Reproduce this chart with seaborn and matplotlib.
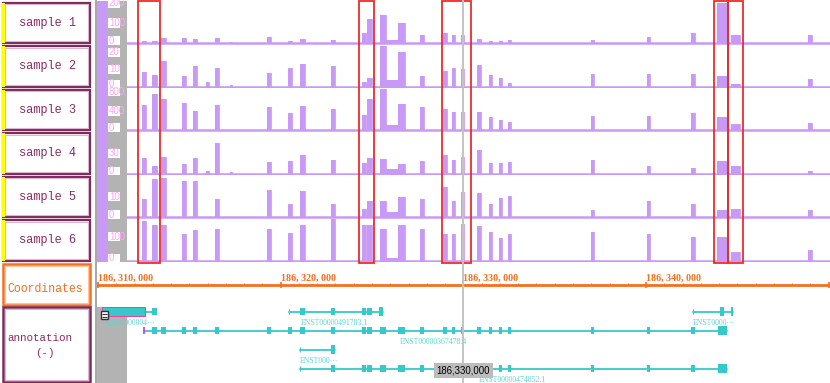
import matplotlib
matplotlib.use("Agg")
import matplotlib.pyplot as plt
from matplotlib.patches import Rectangle
from matplotlib.transforms import blended_transform_factory as blend
import pandas as pd
import seaborn as sns

# ---------------- data ----------------
region_start = 186310000            # bp at x = 0, positions below are kb offsets
view_kb = (-0.055, 40.07)
samples = ["sample 1", "sample 2", "sample 3", "sample 4", "sample 5", "sample 6"]

exon_start = [2.41, 2.96, 3.45, 4.60, 5.20, 5.91, 6.40, 7.22, 9.25,
              10.40, 11.06, 12.75, 14.45, 14.72, 15.44, 15.76, 16.42,
              17.62, 18.88, 19.38, 19.87, 20.74, 21.40, 21.95, 22.44,
              26.98, 30.05, 32.46, 33.88, 34.65, 38.86]
exon_end = [2.63, 3.23, 3.72, 4.82, 5.42, 6.08, 6.62, 7.33, 9.47,
            10.62, 11.33, 12.97, 14.67, 15.00, 15.76, 16.42, 16.80,
            17.84, 19.10, 19.54, 20.03, 20.96, 21.57, 22.11, 22.61,
            27.15, 30.21, 32.68, 34.43, 35.14, 39.08]

# relative depth (fraction of each track's scale)
depth_s1 = [0.05, 0.05, 0.12, 0.12, 0.10, 0.00, 0.12, 0.02, 0.15, 0.05, 0.10, 0.08,
            0.25, 0.57, 0.66, 0.07, 0.47, 0.18, 0.24, 0.19, 0.18, 0.10, 0.06, 0.06,
            0.08, 0.08, 0.15, 0.25, 0.95, 0.20, 0.20]
depth_s2 = [0.34, 0.27, 0.60, 0.24, 0.50, 0.10, 0.45, 0.04, 0.32, 0.45, 0.53, 0.50,
            0.10, 0.20, 0.97, 0.15, 0.83, 0.25, 0.37, 0.43, 0.42, 0.52, 0.28, 0.20,
            0.09, 0.30, 0.30, 0.30, 0.26, 0.05, 0.19]
depth_s3 = [0.60, 0.86, 0.75, 0.65, 0.45, 0.00, 0.60, 0.00, 0.55, 0.40, 0.58, 0.50,
            0.35, 0.75, 0.97, 0.12, 0.62, 0.55, 0.50, 0.42, 0.42, 0.42, 0.30, 0.25,
            0.19, 0.34, 0.34, 0.40, 0.32, 0.15, 0.17]
depth_s4 = [0.38, 0.19, 0.40, 0.22, 0.37, 0.05, 0.73, 0.03, 0.28, 0.30, 0.45, 0.32,
            0.25, 0.36, 0.34, 0.10, 0.22, 0.30, 0.43, 0.32, 0.40, 0.55, 0.26, 0.25,
            0.28, 0.33, 0.18, 0.13, 0.30, 0.18, 0.07]
depth_s5 = [0.43, 0.90, 0.93, 0.85, 0.85, 0.00, 0.43, 0.00, 0.65, 0.32, 0.63, 0.32,
            0.20, 0.37, 0.37, 0.12, 0.47, 0.42, 0.72, 0.37, 0.60, 0.57, 0.32, 0.45,
            0.50, 0.17, 0.37, 0.32, 0.17, 0.20, 0.17]
depth_s6 = [0.93, 0.84, 0.85, 0.64, 0.72, 0.00, 0.76, 0.00, 0.74, 0.66, 0.85, 0.99,
            0.84, 0.84, 0.74, 0.06, 0.84, 0.76, 0.62, 0.64, 0.87, 0.82, 0.68, 0.54,
            0.62, 0.67, 0.62, 0.55, 0.57, 0.20, 0.26]
depths = [depth_s1, depth_s2, depth_s3, depth_s4, depth_s5, depth_s6]

track_max = [210, 24.5, 880, 62, 20.7, 176]
track_ticks = [[0, 100, 200], [0, 10, 20], [0, 400, 800], [0, 30], [0, 10], [0, 100]]

highlight_start = [2.19, 14.29, 18.83, 33.72, 34.48]
highlight_end = [3.39, 15.11, 20.42, 34.48, 35.30]
cursor_kb = 20.0

# transcripts (minus strand)
tx_names = ["ENST000004\u00b7\u00b7\u00b7", "ENST00000491783.1", "ENST0000\u00b7\u00b7\u00b7",
            "ENST00000367478.4", "ENST000\u00b7\u00b7\u00b7", "ENST00000474852.1"]
tx_row = [0, 0, 0, 1, 2, 3]
tx_from = [0.22, 10.45, 32.57, 2.52, 11.06, 11.06]
tx_to = [3.12, 15.60, 34.76, 34.43, 12.97, 34.43]
tx_exons = [[1], [10, 11, 12, 13], [],
            [1, 2, 3, 4, 6, 8, 9, 10, 11, 12, 13, 14, 16, 17, 18, 19, 20, 21, 22, 23, 24,
             25, 26, 27],
            [], [11, 12, 13, 14, 16, 17, 18, 19, 20, 21, 22, 23, 24, 25, 26, 27]]
tx_thick = [[(0.22, 2.57)], [(15.38, 15.60)], [(34.05, 34.27), (34.66, 34.76)],
            [(33.94, 34.43)], [(12.75, 12.97)], [(33.94, 34.43)]]
tx_label_x = [0.44, 11.11, 32.57, 16.53, 11.06, 20.85]

# ---------------- style ----------------
purple = "#c99af5"
red = "#f02a2a"
cyan = "#35c9c9"
cyan_txt = "#62d2d2"
orange = "#f4701e"
maroon = "#7d2b5b"
pink = "#ffaaf2"
gray = "#b3b3b3"

sns.set_theme(style="white")
plt.rcParams["font.family"] = ["DejaVu Sans"]

W, H = 830, 383
fig = plt.figure(figsize=(W / 100, H / 100), dpi=100)
fig.patch.set_facecolor("white")


def px_axes(x0, y0, x1, y1, z=1):
    ax = fig.add_axes([x0 / W, 1 - y1 / H, (x1 - x0) / W, (y1 - y0) / H], zorder=z)
    ax.set_axis_off()
    return ax


# left label panel
bg = px_axes(0, 0, W, H, z=0)
bg.set_xlim(0, W)
bg.set_ylim(H, 0)
track_h = 43.5
for i, name in enumerate(samples):
    top = 1 + track_h * i
    bg.add_patch(Rectangle((2.5, top + 1.5), 87, track_h - 3, fc="white", ec=maroon, lw=1.6))
    bg.add_patch(Rectangle((4.5, top + 3.2), 83, track_h - 6.4, fc="none", ec="#dcb6cf", lw=0.8))
    bg.add_patch(Rectangle((1.5, top + 1.5), 3.5, track_h - 3, fc="#ffff00", ec="none", zorder=3))
    bg.text(47, top + track_h / 2, name, ha="center", va="center", fontsize=8.6,
            family="Liberation Mono", color="#8a2d62")

bg.add_patch(Rectangle((2.5, 263.5), 87, 41.5, fc="white", ec=orange, lw=1.8))
bg.add_patch(Rectangle((4.5, 265.5), 83, 37.5, fc="none", ec="#f9c39c", lw=0.8))
bg.text(45, 289, "Coordinates", ha="center", va="center", fontsize=8.3,
        family="Liberation Mono", color=orange)

bg.add_patch(Rectangle((2.5, 307), 87, 75, fc="white", ec=maroon, lw=1.8))
bg.add_patch(Rectangle((4.5, 309), 83, 71, fc="none", ec="#dcb6cf", lw=0.8))
bg.text(40, 338, "annotation", ha="center", va="center", fontsize=7.8,
        family="Liberation Mono", color="#8a2d62")
bg.text(45, 353, "(-)", ha="center", va="center", fontsize=7.8,
        family="Liberation Mono", color="#8a2d62")

bg.add_patch(Rectangle((94.5, 0), 2.2, H, fc="#a9a9a9", ec="none"))
bg.add_patch(Rectangle((97, 307), 30, 76, fc=gray, ec="none"))

# coverage tracks
x_axis_frac = lambda px: (px - 97) / (W - 97)
for i, depth in enumerate(depths):
    top = 1 + track_h * i
    ax = px_axes(97, top, W, top + track_h, z=2)
    ax.set_xlim(*view_kb)
    ax.set_ylim(-0.035, 1.0)
    xs, ys = [], []
    for s, e, d in zip(exon_start, exon_end, depth):
        xs += [s, s, e, e]
        ys += [0, d, d, 0]
    ax.fill_between(xs, ys, 0, color=purple, lw=0)
    sns.lineplot(x=xs, y=ys, estimator=None, sort=False, color=purple, lw=0.6, ax=ax)
    ax.axhline(0, color=purple, lw=1.8)
    tr = blend(ax.transAxes, ax.transData)
    ax.add_patch(Rectangle((0, 0), x_axis_frac(107), 1, transform=ax.transAxes,
                           fc=purple, ec="none", zorder=5))
    ax.add_patch(Rectangle((x_axis_frac(107), 0), x_axis_frac(127) - x_axis_frac(107), 1,
                           transform=ax.transAxes, fc=gray, ec="none", zorder=5))
    for v in track_ticks[i]:
        y = v / track_max[i] if v else 0.05
        ax.add_patch(Rectangle((x_axis_frac(108), y - 0.11), x_axis_frac(120) - x_axis_frac(108),
                               0.22, transform=tr, fc="white", ec="none", zorder=6))
        ax.text(x_axis_frac(109), y, str(v), transform=tr, ha="left", va="center",
                fontsize=7, family="Liberation Sans", color=pink, zorder=7)

# coordinate ruler
cx = px_axes(97, 262, W, 306, z=2)
cx.set_xlim(*view_kb)
cx.set_ylim(306, 262)
cx.axhline(285, color=orange, lw=2)
cx.vlines(range(0, 41), 282.5, 285, color=orange, lw=0.8)
cx.vlines(range(0, 41, 10), 282, 288, color=orange, lw=1.2)
for k in range(0, 40, 10):
    lab = f"{region_start + k * 1000:,}".replace(",", ", ")
    cx.text(k, 278, lab, ha="left", va="center", fontsize=7.2, fontweight="bold",
            family="Liberation Serif", color=orange)

# annotation
an = px_axes(97, 306, W, 383, z=2)
an.set_xlim(*view_kb)
an.set_ylim(383, 306)
rows_y = [312 + 19 * r for r in tx_row]
seg = pd.DataFrame({
    "pos": [p for a, b in zip(tx_from, tx_to) for p in (a, b)],
    "y": [y for y in rows_y for _ in (0, 1)],
    "tx": [n for n in tx_names for _ in (0, 1)],
})
sns.lineplot(data=seg, x="pos", y="y", units="tx", estimator=None, color=cyan, lw=1.3,
             ax=an, legend=False)
for t, y in enumerate(rows_y):
    for k in tx_exons[t]:
        an.add_patch(Rectangle((exon_start[k], y - 3.5), exon_end[k] - exon_start[k], 7,
                               fc=cyan, ec="none", zorder=3))
    for s, e in tx_thick[t]:
        an.add_patch(Rectangle((s, y - 4.5), e - s, 9, fc=cyan, ec="none", zorder=3))
    if t not in (0, 3):
        an.vlines(tx_from[t], y - 2.5, y + 2.5, color=cyan, lw=0.8)
    an.text(tx_label_x[t], y + 11, tx_names[t], ha="left", va="center", fontsize=5.6,
            family="Liberation Serif", color=cyan_txt)
an.add_patch(Rectangle((tx_thick[0][0][0], rows_y[0] - 4.5),
                       tx_thick[0][0][1] - tx_thick[0][0][0], 9,
                       fc="none", ec="#ee3fa5", lw=0.7, zorder=4))
an.vlines(tx_from[3], rows_y[3] - 3.5, rows_y[3] + 3.5, color="#c03fd8", lw=1.2, zorder=4)
# collapse icon
ta = blend(an.transAxes, an.transData)
an.add_patch(Rectangle((x_axis_frac(100.5), 311), x_axis_frac(108) - x_axis_frac(100.5), 8.5,
                       transform=ta, fc="white", ec="#333333", lw=1, zorder=6))
an.hlines([314, 317], x_axis_frac(102), x_axis_frac(106.5), transform=ta,
          color="#333333", lw=0.8, zorder=7)

# highlights and cursor
hl = px_axes(97, 0, W, H, z=5)
hl.set_xlim(*view_kb)
hl.set_ylim(H, 0)
for s, e in zip(highlight_start, highlight_end):
    hl.add_patch(Rectangle((s, 0.5), e - s, 262, fc="none", ec=red, lw=1.3))
hl.axvline(cursor_kb, color="#c4c4c4", lw=1.4, zorder=1)
hl.text(cursor_kb, 370.5, f"{region_start + int(cursor_kb * 1000):,}", ha="center",
        va="center", fontsize=6.9, family="Liberation Sans", color="black",
        bbox=dict(boxstyle="square,pad=0.25", fc="#bcbcbc", ec="none"))

fig.savefig("out.png", dpi=100)
